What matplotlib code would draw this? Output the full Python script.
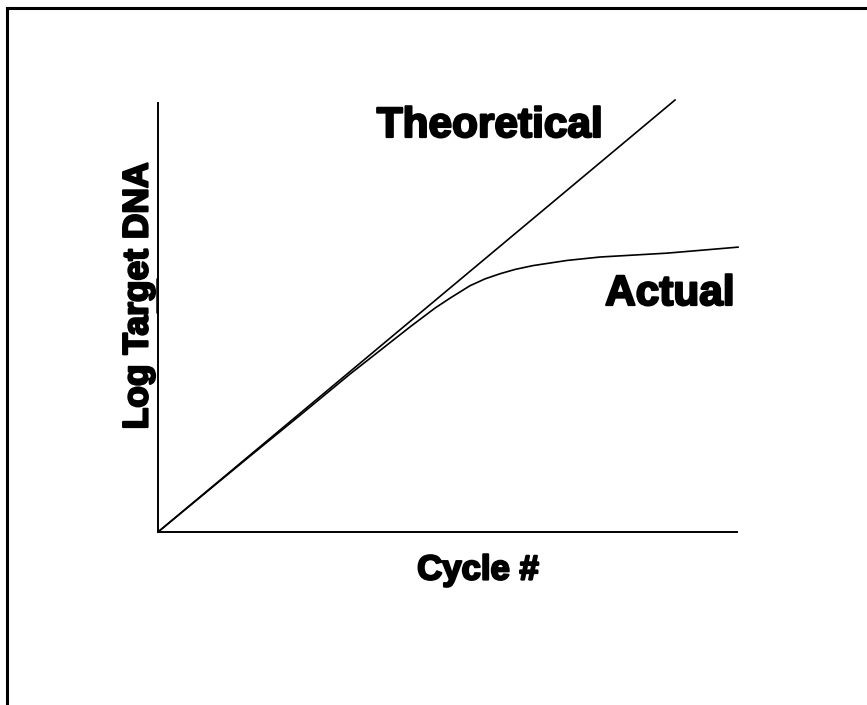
import matplotlib
matplotlib.use("Agg")
import matplotlib.pyplot as plt
from matplotlib.lines import Line2D
import matplotlib.patheffects as pe

# Data (arbitrary units: cycles vs log target DNA)
theory_cycles = [0.0, 35.72]
theory_logdna = [0.0, 10.07]

actual_cycles = [0.0, 6.36, 9.81, 13.26, 17.41, 19.14, 20.17, 21.55, 22.59, 23.63,
                 24.66, 25.91, 28.26, 30.54, 35.16, 40.07]
actual_logdna = [0.0, 1.77, 2.72, 3.68, 4.78, 5.22, 5.45, 5.74, 5.90, 6.02,
                 6.12, 6.21, 6.33, 6.41, 6.50, 6.64]

fig = plt.figure(figsize=(8.67, 7.05), dpi=100)
W, H = 867, 705
ax = fig.add_axes([158 / W, 1 - 532 / H, (737 - 158) / W, (532 - 103) / H])
ax.set_xlim(0, 40)
ax.set_ylim(0, 10)

ax.plot(theory_cycles, theory_logdna, color="black", lw=1.2, clip_on=False)
ax.plot(actual_cycles, actual_logdna, color="black", lw=1.2, clip_on=False,
        solid_joinstyle="round")
# slightly thicker segment on y-axis
ax.plot([-0.07, -0.07], [5.1, 5.92], color="black", lw=1.8, clip_on=False, solid_capstyle="butt")

for s in ["top", "right"]:
    ax.spines[s].set_visible(False)
for s in ["left", "bottom"]:
    ax.spines[s].set_linewidth(1.4)
ax.set_xticks([])
ax.set_yticks([])

font = "Liberation Sans"
heavy = [pe.withStroke(linewidth=1.6, foreground="black")]
fig.text(490 / W, 1 - 126 / H, "Theoretical", fontsize=30.5, fontweight="bold",
         family=font, ha="center", va="center", path_effects=heavy)
fig.text(670 / W, 1 - 294 / H, "Actual", fontsize=30.5, fontweight="bold",
         family=font, ha="center", va="center", path_effects=heavy)
fig.text(478 / W, 1 - 570 / H, "Cycle #", fontsize=25, fontweight="bold",
         family=font, ha="center", va="center", path_effects=heavy)
fig.text(138 / W, 1 - 296 / H, "Log Target DNA", fontsize=25.5, fontweight="bold",
         family=font, ha="center", va="center", rotation=90, path_effects=heavy)

# frame border (top and left)
fig.add_artist(Line2D([6.5 / W, 1.0], [1 - 7.5 / H, 1 - 7.5 / H], color="black", lw=2.2,
                      transform=fig.transFigure))
fig.add_artist(Line2D([6.5 / W, 6.5 / W], [0.0, 1 - 7.5 / H], color="black", lw=2.2,
                      transform=fig.transFigure))

fig.savefig("out.png", dpi=100)
